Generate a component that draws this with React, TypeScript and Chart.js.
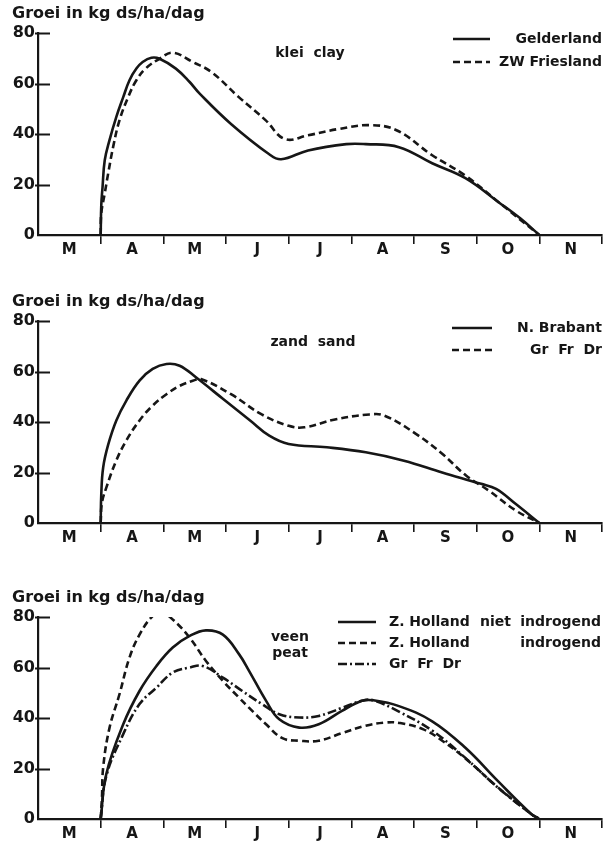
import React, { useEffect, useRef } from "react";
import { Chart, registerables } from "chart.js";

Chart.register(...registerables);

// ---- shared axis content ----
const MONTHS = ["M", "A", "M", "J", "J", "A", "S", "O", "N"]; // March .. November
const Y_STEP = 20;
const Y_MAX = 80;
const Y_TITLE = "Groei in kg ds/ha/dag";

// x = months since 1 March, y = growth in kg dm/ha/day

// klei / clay
const gelderlandX = [1.0, 1.01, 1.03, 1.065, 1.14, 1.25, 1.36, 1.46, 1.57, 1.67, 1.81, 1.94, 2.2, 2.42, 2.58, 3.08, 3.69, 3.88, 4.31, 4.92, 5.23, 5.76, 6.29, 6.82, 7.35, 7.7, 8.0];
const gelderlandY = [0, 12, 19, 29.6, 37.5, 46.8, 54.6, 61.3, 65.9, 68.5, 70.2, 69.8, 65.9, 60.6, 56, 44, 32, 30, 33.5, 36, 36, 34.8, 28.4, 22.5, 13, 6.5, 0];
const frieslandX = [1.0, 1.01, 1.065, 1.12, 1.2, 1.3, 1.44, 1.57, 1.72, 1.94, 2.15, 2.47, 2.77, 3.2, 3.63, 3.94, 4.31, 4.8, 5.29, 5.72, 6.29, 6.82, 7.35, 8.0];
const frieslandY = [0, 8.6, 16.5, 24.4, 35, 45.4, 54.7, 61.3, 66, 69.8, 72.2, 68.5, 64.5, 54.7, 45.5, 38, 39.5, 42, 43.5, 41.5, 31.6, 23.5, 13, 0];

// zand / sand
const brabantX = [1.0, 1.01, 1.04, 1.12, 1.25, 1.41, 1.62, 1.83, 2.05, 2.26, 2.52, 2.96, 3.39, 3.69, 4.0, 4.61, 5.23, 5.84, 6.45, 7.07, 7.31, 7.62, 8.0];
const brabantY = [0, 11.6, 22, 31, 40.6, 48.5, 56.4, 61, 63, 62.3, 57.7, 49, 40.5, 34.6, 31.3, 30, 28, 24.7, 20, 15.5, 13.5, 7.6, 0];
const zandGrFrDrX = [1.0, 1.02, 1.09, 1.25, 1.41, 1.62, 1.83, 2.05, 2.26, 2.47, 2.6, 3.08, 3.57, 4.0, 4.25, 4.74, 5.29, 5.53, 6.03, 6.45, 6.83, 7.19, 7.62, 8.0];
const zandGrFrDrY = [0, 8, 14, 24.8, 32.7, 40.6, 46.5, 51, 54.3, 56.3, 57, 51, 43, 38.5, 37.9, 41, 43, 42.5, 35.3, 27.4, 18.8, 12.9, 5, 0];

// veen / peat
const nietIndrogendX = [1.0, 1.09, 1.36, 1.62, 1.89, 2.15, 2.42, 2.68, 2.95, 3.21, 3.37, 3.64, 3.85, 4.17, 4.48, 4.85, 5.17, 5.35, 5.76, 6.29, 6.82, 7.34, 7.87, 8.0];
const nietIndrogendY = [0, 17.8, 37.5, 50.7, 60.6, 67.9, 72.5, 74.7, 73, 65.2, 58.6, 46.8, 39.5, 36.2, 37.5, 42.8, 46.8, 47, 44.7, 38.7, 28.2, 15, 2, 0];
const indrogendX = [1.0, 1.02, 1.04, 1.14, 1.3, 1.46, 1.62, 1.83, 1.97, 2.15, 2.42, 2.68, 2.95, 3.21, 3.37, 3.64, 3.9, 4.17, 4.48, 4.85, 5.22, 5.54, 5.78, 6.15, 6.45, 6.82, 7.34, 7.87, 8.0];
const indrogendY = [0, 8, 20.4, 36, 49.4, 63.9, 73, 80.4, 81.7, 79, 71.8, 62.6, 54.7, 48, 44, 37.5, 32, 31, 31, 34, 36.9, 38.2, 38, 35.5, 31, 24, 12.5, 2, 0];
const veenGrFrDrX = [1.0, 1.09, 1.36, 1.62, 1.89, 2.15, 2.42, 2.63, 2.95, 3.26, 3.58, 3.85, 4.17, 4.48, 4.85, 5.17, 5.35, 5.76, 6.29, 6.82, 7.34, 7.87, 8.0];
const veenGrFrDrY = [0, 17, 33.6, 45.5, 52, 58, 60, 60.6, 56, 50.7, 45.4, 41.5, 40.2, 40.8, 44, 46.8, 47, 42.5, 35, 24.2, 12.4, 2, 0];

// ---- styling ----
const INK = "#161616";
const FONT = '"DejaVu Sans", "Liberation Sans", sans-serif';
const SOLID: number[] = [];
const DASHED = [7, 4];
const DASH_DOT = [9, 3, 2, 3];

const toPoints = (xs: number[], ys: number[]) => xs.map((x, i) => ({ x, y: ys[i] }));

const line = (label: string, xs: number[], ys: number[], dash: number[]) => ({
  label,
  data: toPoints(xs, ys),
  borderColor: INK,
  borderWidth: 2.6,
  borderDash: dash,
  pointRadius: 0,
  fill: false,
  tension: 0.4,
});

type Part = { text: string; x: number; align: CanvasTextAlign };
type LegendRow = { dataset: number; y: number; parts: Part[] };
type Panel = {
  top: number;
  height: number;
  datasets: ReturnType<typeof line>[];
  notes: { text: string; x: number; y: number }[];
  legendLine: [number, number];
  legend: LegendRow[];
};

const PLOT_TOP = 33; // pixel row of the 80 level inside each canvas
const PLOT_BOTTOM = 235; // pixel row of the 0 line inside each canvas
const PLOT_LEFT = 38;
const PLOT_RIGHT = 602;
const CANVAS_W = 606;

const PANELS: Panel[] = [
  {
    top: 0,
    height: 275,
    datasets: [
      line("Gelderland", gelderlandX, gelderlandY, SOLID),
      line("ZW Friesland", frieslandX, frieslandY, DASHED),
    ],
    notes: [{ text: "klei  clay", x: 310, y: 53 }],
    legendLine: [453, 490],
    legend: [
      { dataset: 0, y: 39, parts: [{ text: "Gelderland", x: 602, align: "right" }] },
      { dataset: 1, y: 62, parts: [{ text: "ZW Friesland", x: 602, align: "right" }] },
    ],
  },
  {
    top: 288,
    height: 275,
    datasets: [
      line("N. Brabant", brabantX, brabantY, SOLID),
      line("Gr Fr Dr", zandGrFrDrX, zandGrFrDrY, DASHED),
    ],
    notes: [{ text: "zand  sand", x: 313, y: 54 }],
    legendLine: [452, 492],
    legend: [
      { dataset: 0, y: 40, parts: [{ text: "N. Brabant", x: 602, align: "right" }] },
      { dataset: 1, y: 62, parts: [{ text: "Gr  Fr  Dr", x: 602, align: "right" }] },
    ],
  },
  {
    top: 584,
    height: 258,
    datasets: [
      line("Z. Holland niet indrogend", nietIndrogendX, nietIndrogendY, SOLID),
      line("Z. Holland indrogend", indrogendX, indrogendY, DASHED),
      line("Gr Fr Dr", veenGrFrDrX, veenGrFrDrY, DASH_DOT),
    ],
    notes: [
      { text: "veen", x: 290, y: 53 },
      { text: "peat", x: 290, y: 69 },
    ],
    legendLine: [338, 376],
    legend: [
      {
        dataset: 0,
        y: 38,
        parts: [
          { text: "Z. Holland", x: 389, align: "left" },
          { text: "niet", x: 480, align: "left" },
          { text: "indrogend", x: 601, align: "right" },
        ],
      },
      {
        dataset: 1,
        y: 59,
        parts: [
          { text: "Z. Holland", x: 389, align: "left" },
          { text: "indrogend", x: 601, align: "right" },
        ],
      },
      { dataset: 2, y: 80, parts: [{ text: "Gr  Fr  Dr", x: 389, align: "left" }] },
    ],
  },
];

// Title, notes, legend and the tick marks that cross the y axis
const panelNotes = {
  id: "panelNotes",
  afterDraw(chart: any, _args: any, opts: any) {
    const { ctx, chartArea } = chart;
    const yScale = chart.scales.y;
    ctx.save();
    ctx.strokeStyle = INK;
    ctx.fillStyle = INK;

    ctx.lineWidth = 2;
    ctx.setLineDash([]);
    for (let v = Y_STEP; v <= Y_MAX; v += Y_STEP) {
      const py = Math.round(yScale.getPixelForValue(v)) + 0.5;
      ctx.beginPath();
      ctx.moveTo(chartArea.left - 3, py);
      ctx.lineTo(chartArea.left + 12, py);
      ctx.stroke();
    }

    ctx.textBaseline = "middle";
    ctx.textAlign = "left";
    ctx.font = `bold 16px ${FONT}`;
    ctx.fillText(Y_TITLE, 12, 14);

    ctx.font = `bold 14px ${FONT}`;
    ctx.textAlign = "center";
    for (const n of opts.notes) ctx.fillText(n.text, n.x, n.y);

    const [lx0, lx1] = opts.legendLine;
    for (const row of opts.legend as LegendRow[]) {
      const ds = chart.data.datasets[row.dataset];
      ctx.lineWidth = ds.borderWidth;
      ctx.setLineDash(ds.borderDash || []);
      ctx.beginPath();
      ctx.moveTo(lx0, row.y);
      ctx.lineTo(lx1, row.y);
      ctx.stroke();
      ctx.setLineDash([]);
      for (const p of row.parts) {
        ctx.textAlign = p.align;
        ctx.fillText(p.text, p.x, row.y);
      }
    }
    ctx.restore();
  },
};

function PanelChart({ panel }: { panel: Panel }) {
  const ref = useRef<HTMLCanvasElement | null>(null);
  useEffect(() => {
    if (!ref.current) return;
    const chart = new Chart(ref.current, {
      type: "line",
      data: { datasets: panel.datasets as any },
      plugins: [panelNotes],
      options: {
        responsive: false,
        animation: false,
        events: [],
        layout: { padding: { top: PLOT_TOP, right: CANVAS_W - PLOT_RIGHT, left: 0, bottom: 0 } },
        plugins: {
          legend: { display: false },
          tooltip: { enabled: false },
          panelNotes: { notes: panel.notes, legend: panel.legend, legendLine: panel.legendLine },
        } as any,
        scales: {
          x: {
            type: "linear",
            min: 0,
            max: MONTHS.length,
            afterFit: (s: any) => {
              s.height = panel.height - PLOT_BOTTOM;
            },
            ticks: {
              stepSize: 0.5,
              autoSkip: false,
              maxRotation: 0,
              padding: -3,
              color: INK,
              font: { family: FONT, size: 15, weight: "bold" },
              callback: (v: any) => {
                const n = Number(v);
                return Number.isInteger(n) ? "" : MONTHS[Math.floor(n)];
              },
            },
            grid: {
              drawOnChartArea: false,
              drawTicks: true,
              tickLength: 9,
              lineWidth: 1.6,
              color: (c: any) =>
                c.tick && Number.isInteger(c.tick.value) && c.tick.value > 0 ? INK : "rgba(0,0,0,0)",
            },
            border: { display: true, color: INK, width: 2.2 },
          },
          y: {
            min: 0,
            max: Y_MAX,
            afterFit: (s: any) => {
              s.width = PLOT_LEFT;
            },
            ticks: {
              stepSize: Y_STEP,
              padding: 3,
              color: INK,
              font: { family: FONT, size: 16, weight: "bold" },
            },
            grid: { display: false, drawTicks: false },
            border: { display: true, color: INK, width: 2.2 },
          },
        },
      },
    });
    return () => chart.destroy();
  }, [panel]);
  return (
    <canvas
      ref={ref}
      width={CANVAS_W}
      height={panel.height}
      style={{ position: "absolute", left: 0, top: panel.top, display: "block" }}
    />
  );
}

export default function App() {
  return (
    <div style={{ position: "absolute", left: 0, top: 0, width: CANVAS_W, height: 842, background: "#fff" }}>
      {PANELS.map((p, i) => (
        <PanelChart key={i} panel={p} />
      ))}
    </div>
  );
}
